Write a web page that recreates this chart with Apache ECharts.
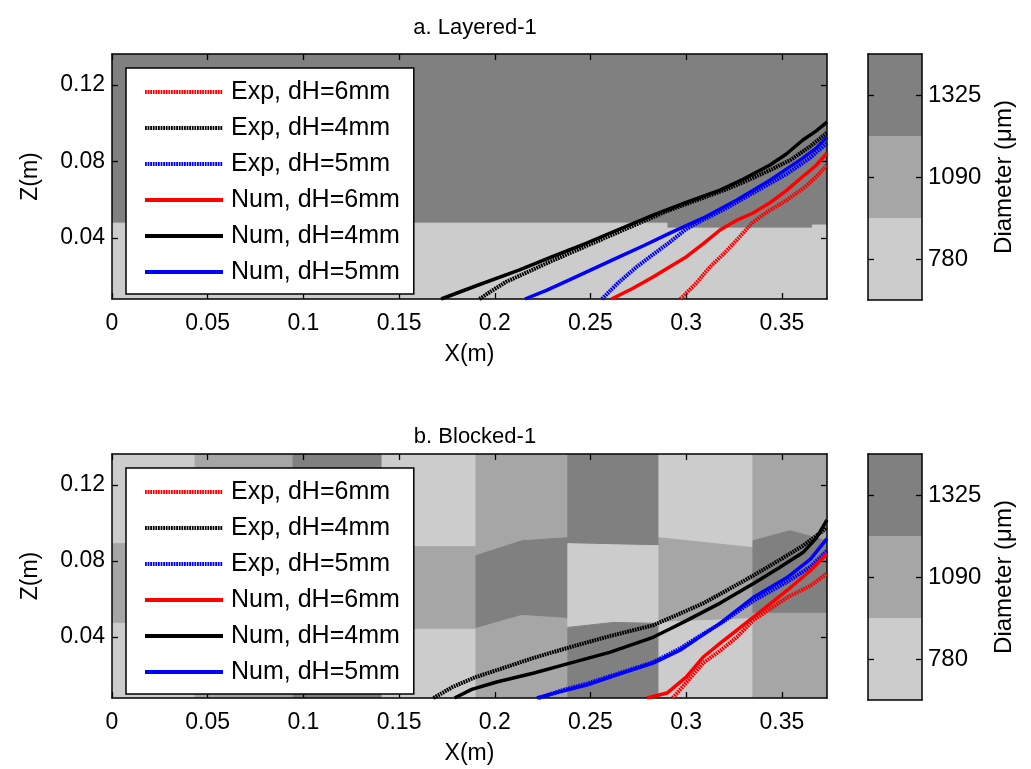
<!DOCTYPE html>
<html>
<head>
<meta charset="utf-8">
<script src="https://cdn.jsdelivr.net/npm/echarts@6/dist/echarts.min.js"></script>
<style>
  html, body { margin: 0; padding: 0; background: #ffffff; }
  #chart { width: 1031px; height: 769px; }
</style>
</head>
<body>
<div id="chart"></div>
<script>
// ---- tick labels and categories ----
const xTicks = [0, 0.05, 0.1, 0.15, 0.2, 0.25, 0.3, 0.35];
const zTicks = [0.04, 0.08, 0.12];
const diameterLabels = ['780', '1090', '1325'];
const seriesNames = ['Exp, dH=6mm', 'Exp, dH=4mm', 'Exp, dH=5mm', 'Num, dH=6mm', 'Num, dH=4mm', 'Num, dH=5mm'];

// axis extents (m)
const X_MIN = 0, X_MAX = 0.3736, Z_MIN = 0.008, Z_MAX = 0.1362;

// ---- a. Layered-1 : interface between the coarse (top) and fine (bottom) layers ----
const layeredInterface = [[0, 0.0477], [0.29, 0.0477], [0.29, 0.0451], [0.366, 0.0451], [0.366, 0.0467], [0.3736, 0.0467]];

// ---- b. Blocked-1 : block columns, diameter class per row (0=780, 1=1090, 2=1325) ----
const blockEdges = [0, 0.0434, 0.0946, 0.1411, 0.1902, 0.2382, 0.2858, 0.3349, 0.3736];
const blockTopClass = [0, 1, 2, 0, 1, 2, 0, 1];
const blockMidClass = [1, 2, 0, 1, 2, 0, 1, 2];
const blockBotClass = [0, 1, 2, 0, 1, 2, 0, 1];
// row boundaries per column: z at left / middle / right edge
const blockUpper = [[0.0891, 0.0891, 0.0891], [0.088, 0.088, 0.088], [0.088, 0.088, 0.088], [0.0875, 0.0875, 0.0875],
                    [0.0828, 0.0906, 0.0922], [0.0891, 0.0885, 0.088], [0.0922, 0.0896, 0.087], [0.0906, 0.0959, 0.0906]];
const blockLower = [[0.0472, 0.0472, 0.0472], [0.0462, 0.0462, 0.0462], [0.0462, 0.0462, 0.0462], [0.0441, 0.0441, 0.0441],
                    [0.0446, 0.0514, 0.0498], [0.0451, 0.0477, 0.0472], [0.0477, 0.0487, 0.0498], [0.0525, 0.0525, 0.0525]];

// ---- plume fronts, layered case [x (m), z (m)] ----
const expA6 = [[0.297, 0.008], [0.305, 0.016], [0.3124, 0.0247], [0.32, 0.032], [0.3265, 0.0389], [0.335, 0.0483], [0.343, 0.054], [0.3527, 0.0598], [0.362, 0.0665], [0.368, 0.072], [0.3736, 0.078]];
const expA4 = [[0.192, 0.008], [0.198, 0.012], [0.206, 0.017], [0.218, 0.0225], [0.23, 0.028], [0.245, 0.0345], [0.26, 0.041], [0.275, 0.0475], [0.29, 0.054], [0.305, 0.0595], [0.32, 0.065], [0.333, 0.0705], [0.345, 0.076], [0.355, 0.081], [0.365, 0.088], [0.3736, 0.095]];
const expA5 = [[0.256, 0.008], [0.264, 0.016], [0.274, 0.0247], [0.283, 0.0315], [0.2915, 0.0378], [0.30, 0.0445], [0.309, 0.0495], [0.32, 0.055], [0.335, 0.0635], [0.3527, 0.0735], [0.365, 0.082], [0.3736, 0.0896]];
const numA6 = [[0.261, 0.008], [0.272, 0.0135], [0.2827, 0.0195], [0.29, 0.024], [0.30, 0.030], [0.309, 0.037], [0.3177, 0.0441], [0.326, 0.049], [0.335, 0.053], [0.344, 0.0585], [0.3527, 0.065], [0.362, 0.073], [0.368, 0.078], [0.3736, 0.0844]];
const numA4 = [[0.172, 0.008], [0.19, 0.0148], [0.213, 0.0232], [0.23, 0.0302], [0.248, 0.0373], [0.265, 0.0445], [0.2827, 0.0519], [0.30, 0.0585], [0.3177, 0.065], [0.33, 0.0708], [0.3438, 0.0781], [0.352, 0.0836], [0.361, 0.0912], [0.368, 0.096], [0.3736, 0.1006]];
const numA5 = [[0.2158, 0.008], [0.227, 0.0125], [0.239, 0.018], [0.252, 0.024], [0.265, 0.030], [0.278, 0.036], [0.2915, 0.0425], [0.309, 0.0504], [0.3265, 0.0598], [0.3438, 0.0702], [0.361, 0.0817], [0.368, 0.087], [0.3736, 0.0927]];

// ---- plume fronts, blocked case ----
const expB6 = [[0.293, 0.008], [0.30, 0.016], [0.3088, 0.0263], [0.318, 0.033], [0.3265, 0.0399], [0.335, 0.0488], [0.3527, 0.0608], [0.365, 0.067], [0.3736, 0.0734]];
const expB4 = [[0.168, 0.008], [0.178, 0.0138], [0.19, 0.019], [0.201, 0.0226], [0.22, 0.029], [0.2393, 0.0347], [0.26, 0.0405], [0.2827, 0.0462], [0.296, 0.052], [0.3088, 0.0577], [0.322, 0.065], [0.335, 0.0723], [0.348, 0.080], [0.361, 0.088], [0.3736, 0.0974]];
const expB5 = [[0.223, 0.008], [0.235, 0.012], [0.248, 0.0155], [0.265, 0.021], [0.2827, 0.0268], [0.2968, 0.034], [0.307, 0.0405], [0.3177, 0.047], [0.335, 0.059], [0.3527, 0.069], [0.365, 0.077], [0.3736, 0.0854]];
const numB6 = [[0.2795, 0.008], [0.29, 0.0106], [0.30, 0.019], [0.3088, 0.0294], [0.318, 0.037], [0.3265, 0.0436], [0.335, 0.0504], [0.3527, 0.0645], [0.365, 0.075], [0.3736, 0.0838]];
const numB4 = [[0.179, 0.008], [0.188, 0.0125], [0.201, 0.0164], [0.22, 0.021], [0.2393, 0.0263], [0.26, 0.032], [0.2827, 0.0399], [0.292, 0.0445], [0.3004, 0.0488], [0.318, 0.058], [0.335, 0.068], [0.348, 0.076], [0.361, 0.0844], [0.368, 0.092], [0.3736, 0.1016]];
const numB5 = [[0.222, 0.008], [0.235, 0.0115], [0.248, 0.0148], [0.265, 0.0205], [0.2827, 0.0263], [0.2968, 0.0331], [0.307, 0.040], [0.3177, 0.0472], [0.335, 0.0608], [0.3527, 0.0713], [0.365, 0.081], [0.3736, 0.0917]];

// ---- styling ----
const FONT = 'Liberation Sans, Arial, Helvetica, sans-serif';
const classColors = ['#cccccc', '#a6a6a6', '#808080'];
const lineColors = { '6': '#ff0000', '4': '#000000', '5': '#0000ff' };
const EXP_DASH = [1.8, 0.8];

// background patches for each panel
function layeredPatches() {
  const top = layeredInterface.concat([[X_MAX, Z_MAX], [X_MIN, Z_MAX]]);
  const bottom = layeredInterface.concat([[X_MAX, Z_MIN], [X_MIN, Z_MIN]]);
  return [{ pts: top, color: classColors[2] }, { pts: bottom, color: classColors[0] }];
}
function blockedPatches() {
  const out = [];
  for (let i = 0; i < blockEdges.length - 1; i++) {
    const xl = blockEdges[i], xr = blockEdges[i + 1], xm = (xl + xr) / 2;
    const up = blockUpper[i], lo = blockLower[i];
    const upLine = [[xl, up[0]], [xm, up[1]], [xr, up[2]]];
    const loLine = [[xl, lo[0]], [xm, lo[1]], [xr, lo[2]]];
    out.push({ pts: upLine.concat([[xr, Z_MAX], [xl, Z_MAX]]), color: classColors[blockTopClass[i]] });
    out.push({ pts: upLine.concat(loLine.slice().reverse()), color: classColors[blockMidClass[i]] });
    out.push({ pts: loLine.concat([[xr, Z_MIN], [xl, Z_MIN]]), color: classColors[blockBotClass[i]] });
  }
  return out;
}
function patchSeries(patches, axisIdx) {
  return {
    type: 'custom', xAxisIndex: axisIdx, yAxisIndex: axisIdx, z: 0, silent: true, clip: true,
    data: patches.map((p, i) => [p.pts[0][0], p.pts[0][1], i]),
    encode: { x: 0, y: 1 },
    renderItem(params, api) {
      const p = patches[params.dataIndex];
      return {
        type: 'polygon',
        shape: { points: p.pts.map(q => api.coord(q)) },
        style: { fill: p.color, stroke: p.color, lineWidth: 1 }
      };
    }
  };
}
function curve(name, data, axisIdx) {
  const isExp = name.startsWith('Exp');
  const key = name.match(/dH=(\d)/)[1];
  return {
    type: 'line', name, data, xAxisIndex: axisIdx, yAxisIndex: axisIdx,
    symbol: 'none', showSymbol: false, smooth: false, z: 5, clip: true, silent: true,
    lineStyle: { color: lineColors[key], width: isExp ? 4 : 3.5, type: isExp ? EXP_DASH : 'solid' },
    itemStyle: { color: lineColors[key] }
  };
}

// plot panels and colour bars (two each)
const panels = [
  { top: 54, height: 245, title: 'a. Layered-1', titleTop: 12, patches: layeredPatches(),
    curves: [expA6, expA4, expA5, numA6, numA4, numA5] },
  { top: 454, height: 244, title: 'b. Blocked-1', titleTop: 421, patches: blockedPatches(),
    curves: [expB6, expB4, expB5, numB6, numB4, numB5] }
];

const grid = [], xAxis = [], yAxis = [], series = [], legend = [], title = [];
const axisLine = { show: true, onZero: false, lineStyle: { color: '#000', width: 1.5 } };
const tickStyle = { show: true, inside: true, length: 6, lineStyle: { color: '#000', width: 1.3 } };
const labelStyle = { color: '#000', fontSize: 23, fontFamily: FONT };
const nameStyle = { color: '#000', fontSize: 23, fontFamily: FONT };

panels.forEach((p, k) => {
  const g = k * 2;           // plot grid index
  const c = k * 2 + 1;       // colour-bar grid index
  grid.push({ left: 112, top: p.top, width: 715, height: p.height });
  grid.push({ left: 868, top: p.top, width: 54, height: 246 });

  // plot axes: bottom/left carry labels, top/right only close the box
  xAxis.push({
    type: 'value', gridIndex: g, min: X_MIN, max: X_MAX, position: 'bottom', z: 3,
    name: 'X(m)', nameLocation: 'middle', nameGap: 44, nameTextStyle: nameStyle,
    axisLine, splitLine: { show: false },
    axisTick: Object.assign({}, tickStyle, { customValues: xTicks }),
    axisLabel: Object.assign({}, labelStyle, { customValues: xTicks, margin: 13,
      formatter: v => String(+Number(v).toFixed(2)) })
  });
  yAxis.push({
    type: 'value', gridIndex: g, min: Z_MIN, max: Z_MAX, position: 'left', z: 3,
    name: 'Z(m)', nameLocation: 'middle', nameGap: 70, nameRotate: 90, nameTextStyle: nameStyle,
    axisLine, splitLine: { show: false },
    axisTick: Object.assign({}, tickStyle, { customValues: zTicks }),
    axisLabel: Object.assign({}, labelStyle, { customValues: zTicks, margin: 7,
      formatter: v => Number(v).toFixed(2) })
  });
  // colour-bar axes
  xAxis.push({ type: 'value', gridIndex: c, min: 0, max: 1, show: false });
  yAxis.push({
    type: 'category', gridIndex: c, data: diameterLabels, position: 'right', z: 3,
    name: 'Diameter (μm)', nameLocation: 'middle', nameGap: 70, nameRotate: 90,
    nameTextStyle: Object.assign({}, nameStyle, { fontSize: 24 }),
    axisLine, axisTick: Object.assign({}, tickStyle, { alignWithLabel: true }),
    axisLabel: Object.assign({}, labelStyle, { fontSize: 24, margin: 6 })
  });
  title.push({
    text: p.title, left: 470, top: p.titleTop, textAlign: 'center',
    textStyle: { color: '#000', fontSize: 22, fontWeight: 'normal', fontFamily: FONT }
  });
  legend.push({
    data: seriesNames, orient: 'vertical', left: 126, top: p.top + 14,
    itemWidth: 78, itemHeight: 12, itemGap: 10, padding: [11, 14, 9, 17],
    backgroundColor: '#ffffff', borderColor: '#000', borderWidth: 1.5, borderRadius: 0,
    selectedMode: false, z: 8,
    itemStyle: { opacity: 0 },
    lineStyle: { width: 4 },
    textStyle: { color: '#000', fontSize: 25, fontFamily: FONT, lineHeight: 26, padding: [0, 0, 0, 3] }
  });

  series.push(patchSeries(p.patches, g));
  p.curves.forEach((d, i) => series.push(curve(seriesNames[i], d, g)));
  series.push({
    type: 'bar', xAxisIndex: c, yAxisIndex: c, barCategoryGap: '0%', silent: true, z: 0,
    data: diameterLabels.map((_, i) => ({ value: 1, itemStyle: { color: classColors[i] } }))
  });
});

// extra axes closing the frames (top and right of plots, left/top/bottom of colour bars)
panels.forEach((p, k) => {
  const g = k * 2, c = k * 2 + 1;
  xAxis.push({ type: 'value', gridIndex: g, min: X_MIN, max: X_MAX, position: 'top', z: 3,
    axisLine, splitLine: { show: false }, axisLabel: { show: false },
    axisTick: Object.assign({}, tickStyle, { customValues: xTicks }) });
  yAxis.push({ type: 'value', gridIndex: g, min: Z_MIN, max: Z_MAX, position: 'right', z: 3,
    axisLine, splitLine: { show: false }, axisLabel: { show: false },
    axisTick: Object.assign({}, tickStyle, { customValues: zTicks }) });
  yAxis.push({ type: 'category', gridIndex: c, data: diameterLabels, position: 'left', z: 3,
    axisLine, axisLabel: { show: false }, axisTick: Object.assign({}, tickStyle, { alignWithLabel: true }) });
  xAxis.push({ type: 'value', gridIndex: c, min: 0, max: 1, position: 'top', z: 3,
    axisLine, axisLabel: { show: false }, axisTick: { show: false }, splitLine: { show: false } });
  xAxis.push({ type: 'value', gridIndex: c, min: 0, max: 1, position: 'bottom', z: 3,
    axisLine, axisLabel: { show: false }, axisTick: { show: false }, splitLine: { show: false } });
});

const chart = echarts.init(document.getElementById('chart'), null, { renderer: 'canvas' });
chart.setOption({
  animation: false,
  backgroundColor: '#ffffff',
  title, legend, grid, xAxis, yAxis, series
});
</script>
</body>
</html>
